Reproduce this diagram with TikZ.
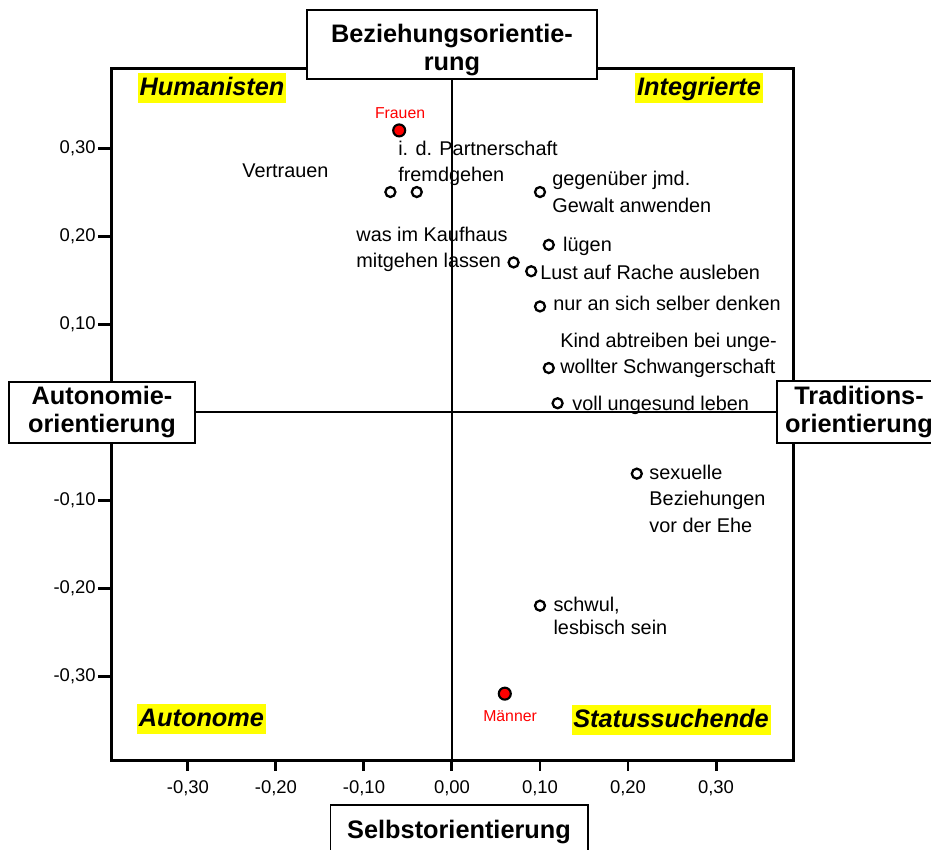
\documentclass[tikz,border=0pt]{standalone}
\usepackage{fontspec}
\setmainfont{Liberation Sans}
\definecolor{markgelb}{RGB}{255,255,0}
\definecolor{geschlrot}{RGB}{255,0,0}
\tikzset{
  achsbox/.style={draw, line width=1.1pt, fill=white, inner sep=0pt, align=center,
    font=\bfseries\fontsize{14.4}{16}\selectfont},
  typ/.style={fill=markgelb, inner xsep=1pt, inner ysep=1.5pt, text height=11pt, text depth=3pt,
    font=\bfseries\itshape\fontsize{14.4}{16}\selectfont},
  wert/.style={circle, draw, fill=white, line width=1.3pt, inner sep=0pt, minimum size=0.2cm},
  gruppe/.style={circle, draw, fill=geschlrot, line width=1.2pt, inner sep=0pt, minimum size=0.24cm},
  beschr/.style={anchor=west, inner sep=0pt, align=left, font=\fontsize{11.3}{15}\selectfont},
  geschl/.style={text=geschlrot, inner sep=0pt, font=\fontsize{9}{10}\selectfont},
  skala/.style={inner sep=0pt, font=\fontsize{10.5}{12}\selectfont}
}

\begin{document}
\begin{tikzpicture}[x=1.76cm,y=1.76cm]
\useasboundingbox (-5.136,-4.966) rectangle (5.443,4.682);
\draw [line width=1.7pt] (-3.864,-3.955) rectangle (3.875,3.909);
\foreach \x/\t in {-3/{-0,30},-2/{-0,20},-1/{-0,10},0/{0,00},1/{0,10},2/{0,20},3/{0,30}} {
  \draw [line width=1.7pt] (\x,-3.955) -- (\x,-4.08);
  \node[skala] (xt\x) at (\x,-4.273) {\t};
}
\foreach \y/\t in {-3/{-0,30},-2/{-0,20},-1/{-0,10},1/{0,10},2/{0,20},3/{0,30}} {
  \draw [line width=1.7pt] (-3.864,\y) -- (-4.023,\y);
  \node[skala, anchor=east] (yt\y) at (-4.045,\y) {\t};
}
\node[achsbox, minimum width=5.8cm, minimum height=1.38cm] (bez) at (0,4.176) {\rule{0pt}{17pt}Beziehungsorientie-\\rung};
\node[achsbox, minimum width=3.72cm, minimum height=1.22cm] (aut) at (-3.977,0) {Autonomie-\\orientierung};
\node[achsbox, minimum width=3.28cm, minimum height=1.24cm] (tra) at (4.625,0) {Traditions-\\orientierung};
\node[achsbox, minimum width=5.14cm, minimum height=1.07cm] (sel) at (0.08,-4.77) {Selbstorientierung};
\coordinate (unten) at (0,-3.955);
\draw [line width=1.1pt] (aut) -- (tra);
\draw [line width=1.1pt] (bez) -- (unten);
\node[typ] (hum) at (-2.727,3.682) {Humanisten};
\node[typ] (int) at (2.807,3.682) {Integrierte};
\node[typ] (auto) at (-2.847,-3.489) {Autonome};
\node[typ] (sta) at (2.489,-3.5) {Statussuchende};
\node[wert] (pVer) at (-0.7,2.5) {};
\node[wert] (pPar) at (-0.4,2.5) {};
\node[wert] (pGew) at (1.0,2.5) {};
\node[wert] (pLue) at (1.1,1.9) {};
\node[wert] (pKau) at (0.7,1.7) {};
\node[wert] (pRac) at (0.9,1.6) {};
\node[wert] (pSel) at (1.0,1.2) {};
\node[wert] (pKin) at (1.1,0.5) {};
\node[wert] (pGes) at (1.2,0.1) {};
\node[wert] (pSex) at (2.1,-0.7) {};
\node[wert] (pSch) at (1.0,-2.2) {};
\node[gruppe] (pFra) at (-0.6,3.2) {};
\node[gruppe] (pMae) at (0.6,-3.2) {};
\node[beschr] (lVer) at (-2.386,2.74) {Vertrauen};
\node[beschr] (lPar) at (-0.614,2.824) {i. d. Partnerschaft\\fremdgehen};
\node[beschr] (lGew) at (1.136,2.5) {gegenüber jmd.\\Gewalt anwenden};
\node[beschr] (lLue) at (1.26,1.88) {lügen};
\node[beschr] (lKau) at (-1.09,1.85) {was im Kaufhaus\\mitgehen lassen};
\node[beschr] (lRac) at (1.0,1.59) {Lust auf Rache ausleben};
\node[beschr] (lSel) at (1.148,1.24) {nur an sich selber denken};
\node[beschr] (lKin) at (1.227,0.641) {Kind abtreiben bei unge-\\wollter Schwangerschaft};
\node[beschr] (lGes) at (1.364,0.075) {voll ungesund leben};
\node[beschr] (lSex) at (2.24,-0.984) {sexuelle\\Beziehungen\\vor der Ehe};
\node[beschr, font=\fontsize{11.3}{12.9}\selectfont] (lSch) at (1.15,-2.32) {schwul,\\lesbisch sein};
\node[geschl] (lFra) at (-0.59,3.40) {Frauen};
\node[geschl] (lMae) at (0.66,-3.46) {Männer};
\end{tikzpicture}
\end{document}
